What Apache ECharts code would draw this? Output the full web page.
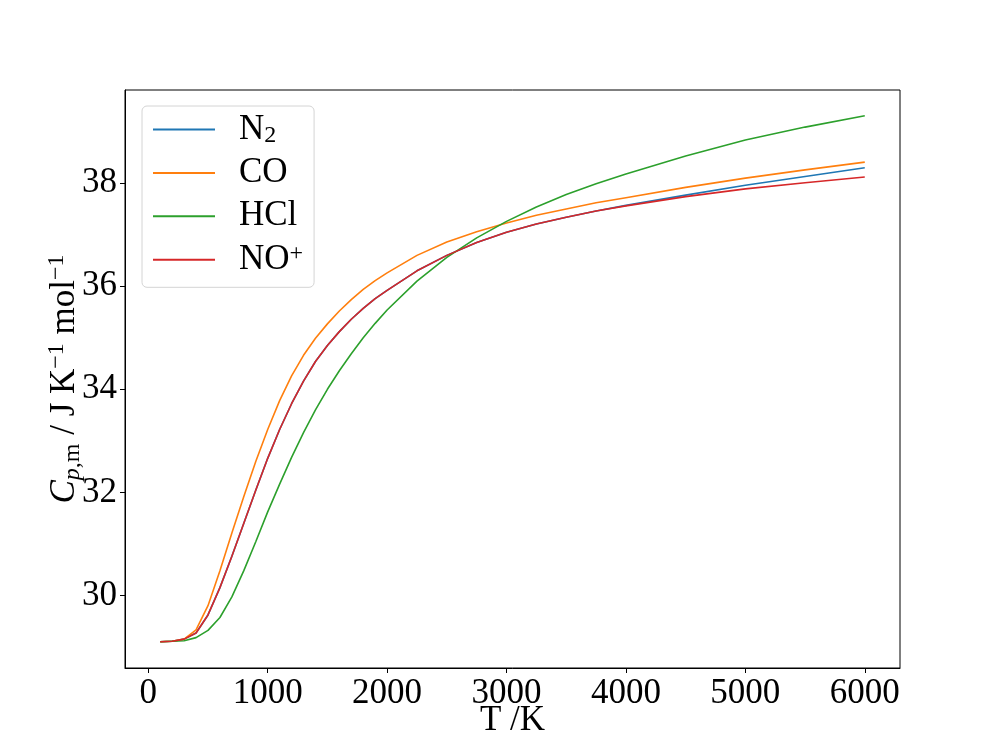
<!DOCTYPE html>
<html>
<head>
<meta charset="utf-8">
<script src="https://cdn.jsdelivr.net/npm/echarts@6/dist/echarts.min.js"></script>
<style>
html,body{margin:0;padding:0;background:#fff;}
#chart{width:1000px;height:750px;}
</style>
</head>
<body>
<div id="chart"></div>
<script>
// Temperature grid (K)
const temps = [100,200,300,400,500,600,700,800,900,1000,1100,1200,1300,1400,1500,1600,1700,1800,1900,2000,2250,2500,2750,3000,3250,3500,3750,4000,4500,5000,5500,6000];
// Cp,m values (J K^-1 mol^-1)
const cpN2  = [29.10,29.11,29.15,29.27,29.62,30.15,30.76,31.40,32.04,32.66,33.22,33.72,34.16,34.54,34.85,35.12,35.36,35.57,35.76,35.92,36.30,36.60,36.85,37.05,37.21,37.34,37.46,37.57,37.77,37.96,38.13,38.30];
const cpCO  = [29.10,29.11,29.15,29.33,29.80,30.48,31.21,31.92,32.60,33.22,33.78,34.26,34.66,34.99,35.27,35.52,35.74,35.94,36.11,36.26,36.60,36.86,37.06,37.23,37.38,37.50,37.62,37.72,37.92,38.10,38.26,38.41];
const cpHCl = [29.10,29.11,29.12,29.18,29.32,29.57,29.97,30.48,31.04,31.62,32.16,32.68,33.16,33.60,34.00,34.36,34.69,35.00,35.28,35.54,36.10,36.56,36.94,37.26,37.54,37.78,37.99,38.18,38.53,38.84,39.09,39.31];
const cpNOp = [29.10,29.11,29.15,29.27,29.62,30.15,30.76,31.40,32.04,32.66,33.22,33.72,34.16,34.54,34.85,35.12,35.36,35.57,35.76,35.92,36.30,36.60,36.85,37.05,37.21,37.34,37.46,37.56,37.74,37.89,38.01,38.12];
// Tick labels
const xTicks = [0,1000,2000,3000,4000,5000,6000];
const yTicks = [30,32,34,36,38];
const seriesNames = ['N2','CO','HCl','NO+'];
const legendRich = {
  'N2': '{m|N}{sub|2}',
  'CO': '{m|CO}',
  'HCl': '{m|HCl}',
  'NO+': '{m|NO}{sup|+}'
};
const colors = ['#1f77b4','#ff7f0e','#2ca02c','#d62728'];
const valuesList = [cpN2, cpCO, cpHCl, cpNOp];

const FONT = 'Liberation Serif';
const FS = 35;
const richBase = {
  m: {fontFamily: FONT, fontSize: FS, lineHeight: 36, verticalAlign: 'middle', color: '#000'},
  i: {fontFamily: FONT, fontSize: FS, fontStyle: 'italic', lineHeight: 40, verticalAlign: 'middle', color: '#000'},
  t: {fontFamily: FONT, fontSize: FS, lineHeight: 40, verticalAlign: 'middle', color: '#000'},
  sub: {fontFamily: FONT, fontSize: 24, lineHeight: 24, verticalAlign: 'bottom', color: '#000'},
  isub: {fontFamily: FONT, fontSize: 24, fontStyle: 'italic', lineHeight: 24, verticalAlign: 'bottom', color: '#000'},
  sup: {fontFamily: FONT, fontSize: 24, lineHeight: 24, verticalAlign: 'top', color: '#000'},
  gap: {width: 19}
};

const chart = echarts.init(document.getElementById('chart'), null, {renderer: 'canvas'});
chart.setOption({
  animation: false,
  backgroundColor: '#fff',
  grid: {left: 125, right: 100, top: 90, bottom: 82, containLabel: false, outerBoundsMode: 'none',
         show: true, borderColor: '#000', borderWidth: 1, backgroundColor: 'transparent'},
  legend: {
    orient: 'vertical',
    left: 142, top: 106,
    padding: [6, 11, 10, 11],
    itemGap: 8.1,
    itemWidth: 62, itemHeight: 2,
    icon: 'rect',
    backgroundColor: '#fff',
    borderColor: '#d4d4d4', borderWidth: 1, borderRadius: 5,
    data: seriesNames,
    formatter: function (name) { return '{gap|}' + legendRich[name]; },
    textStyle: {rich: richBase, fontFamily: FONT, fontSize: FS}
  },
  xAxis: {
    type: 'value', min: -195, max: 6295,
    name: 'T /K', nameLocation: 'middle', nameGap: 35, nameMoveOverlap: false,
    nameTextStyle: {fontFamily: FONT, fontSize: FS, color: '#000'},
    axisLine: {show: true, onZero: false, lineStyle: {color: '#000', width: 1}},
    axisTick: {show: true, length: 5, customValues: xTicks, lineStyle: {color: '#000'}},
    axisLabel: {customValues: xTicks, formatter: function (v) { return String(v); },
                fontFamily: FONT, fontSize: FS, color: '#000', margin: 8},
    splitLine: {show: false}
  },
  yAxis: {
    type: 'value', min: 28.59, max: 39.81,
    name: '{i|C}{isub|p}{sub|,m}{t| / J K}{sup|−1}{t| mol}{sup|−1}',
    nameLocation: 'middle', nameGap: 40, nameRotate: 90, nameMoveOverlap: false,
    nameTextStyle: {rich: richBase, fontFamily: FONT, fontSize: FS, color: '#000'},
    axisLine: {show: true, onZero: false, lineStyle: {color: '#000', width: 1}},
    axisTick: {show: true, length: 5, customValues: yTicks, lineStyle: {color: '#000'}},
    axisLabel: {customValues: yTicks, formatter: function (v) { return String(v); },
                fontFamily: FONT, fontSize: FS, color: '#000', margin: 8},
    splitLine: {show: false}
  },
  series: seriesNames.map(function (nm, k) {
    return {
      name: nm, type: 'line', showSymbol: false, symbol: 'none',
      smooth: false,
      color: colors[k],
      lineStyle: {color: colors[k], width: 1.6},
      data: temps.map(function (t, i) { return [t, valuesList[k][i]]; })
    };
  })
});
</script>
</body>
</html>
